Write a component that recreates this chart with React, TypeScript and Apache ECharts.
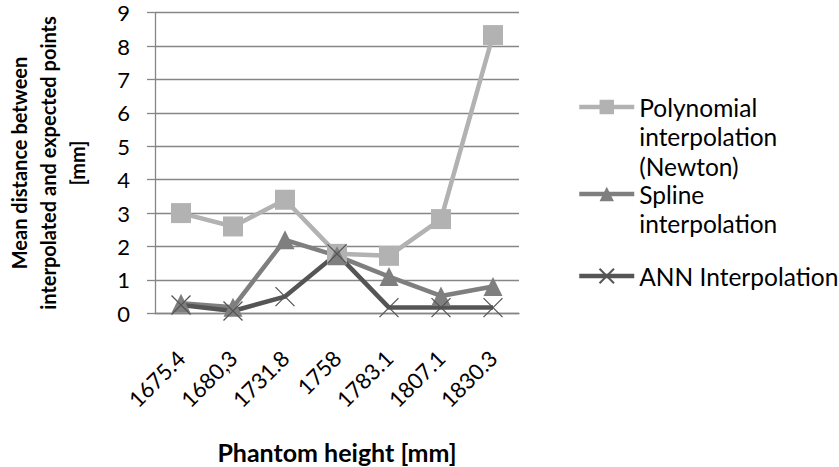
import React, { useEffect, useRef } from "react";
import * as echarts from "echarts";

const categories = ["1675.4", "1680,3", "1731.8", "1758", "1783.1", "1807.1", "1830.3"];
const polynomialValues = [3.0, 2.6, 3.4, 1.78, 1.72, 2.82, 8.33];
const splineValues = [0.3, 0.18, 2.2, 1.72, 1.1, 0.52, 0.8];
const annValues = [0.25, 0.07, 0.5, 1.78, 0.17, 0.17, 0.17];
const yTicks = { min: 0, max: 9, interval: 1 };
const seriesNames = ["Polynomial\ninterpolation\n(Newton)", "Spline\ninterpolation", "ANN Interpolation"];

const FONT = "Lato, 'Open Sans', sans-serif";
const GRID = "#868686";
const C_POLY = "#b2b2b2";
const C_SPL = "#7f7f7f";
const C_ANN = "#555555";
const X_PATH = "path://M0,0L10,10M10,0L0,10";
const LH = 29.5;

export default function App() {
  const ref = useRef<HTMLDivElement>(null);
  useEffect(() => {
    if (!ref.current) return;
    const chart = echarts.init(ref.current, undefined, { renderer: "svg" });
    const legendCommon = {
      orient: "vertical",
      left: 577,
      padding: 0,
      itemWidth: 55,
      itemHeight: 18,
      lineStyle: { width: 4.5 },
      textStyle: { fontFamily: FONT, fontSize: 24.5, color: "#000", lineHeight: LH },
    };
    chart.setOption({
      animation: false,
      backgroundColor: "#fff",
      grid: {
        left: 155,
        right: 320,
        top: 12.7,
        bottom: 153.7,
        outerBoundsMode: "none",
        containLabel: false,
      },
      legend: [
        {
          ...legendCommon,
          top: 107 - 2.5 * LH,
          data: [seriesNames[0]],
          formatter: (n: string) => "\n\n" + n,
        },
        {
          ...legendCommon,
          top: 195 - 1.5 * LH - 1,
          data: [seriesNames[1]],
          formatter: (n: string) => "\n" + n,
        },
        {
          ...legendCommon,
          top: 277 - 0.5 * LH - 1,
          data: [seriesNames[2]],
        },
      ],
      xAxis: {
        type: "category",
        data: categories,
        boundaryGap: true,
        axisLine: { show: true, lineStyle: { color: GRID, width: 1.3 } },
        axisTick: { show: false },
        axisLabel: {
          rotate: 45,
          margin: 41,
          fontFamily: FONT,
          fontSize: 22,
          color: "#000",
        },
        name: "Phantom height [mm]",
        nameLocation: "middle",
        nameGap: 126,
        nameTextStyle: { fontFamily: FONT, fontSize: 25, fontWeight: "bold", color: "#000" },
      },
      yAxis: {
        type: "value",
        min: yTicks.min,
        max: yTicks.max,
        interval: yTicks.interval,
        axisLine: { show: true, lineStyle: { color: GRID, width: 1.3 } },
        axisTick: { show: true, inside: false, length: 8, lineStyle: { color: GRID, width: 1.3 } },
        splitLine: { show: true, lineStyle: { color: GRID, width: 1.3 } },
        axisLabel: { margin: 25, fontFamily: FONT, fontSize: 22, color: "#000" },
        name: "Mean distance between\ninterpolated and expected points\n[mm]",
        nameLocation: "middle",
        nameRotate: 90,
        nameGap: 64,
        nameTextStyle: {
          fontFamily: FONT,
          fontSize: 20,
          fontWeight: "bold",
          color: "#000",
          lineHeight: 29,
          align: "center",
        },
      },
      series: [
        {
          name: seriesNames[0],
          type: "line",
          data: polynomialValues,
          symbol: "rect",
          symbolSize: 20,
          itemStyle: { color: C_POLY },
          lineStyle: { color: C_POLY, width: 4.5 },
        },
        {
          name: seriesNames[1],
          type: "line",
          data: splineValues,
          symbol: "triangle",
          symbolSize: 19,
          itemStyle: { color: C_SPL },
          lineStyle: { color: C_SPL, width: 4.5 },
        },
        {
          name: seriesNames[2],
          type: "line",
          data: annValues,
          symbol: X_PATH,
          symbolSize: 19,
          itemStyle: { color: C_ANN, borderColor: C_ANN, borderWidth: 1.3 },
          lineStyle: { color: C_ANN, width: 4.5 },
        },
      ],
    });
    return () => chart.dispose();
  }, []);
  return (
    <div
      ref={ref}
      style={{ position: "fixed", left: 0, top: 0, width: 839, height: 467, background: "#fff" }}
    />
  );
}
